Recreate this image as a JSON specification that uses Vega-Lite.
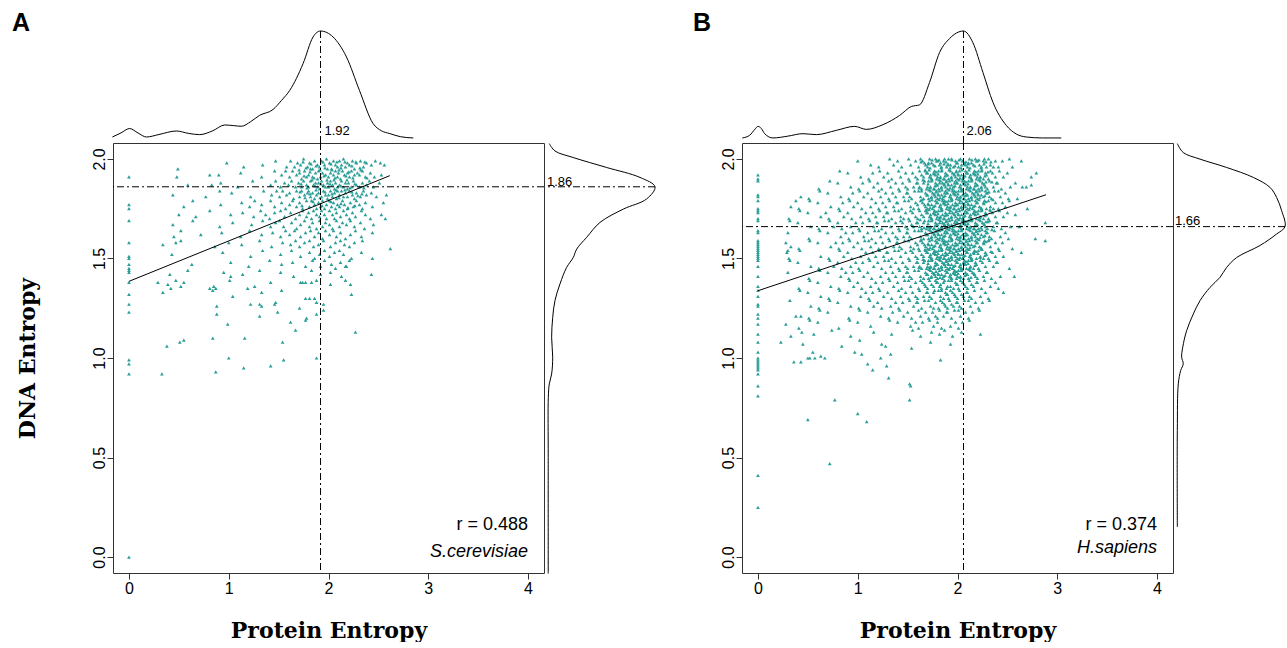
{
"$schema":"https://vega.github.io/schema/vega-lite/v6.json",
"background":"white",
"padding":{"left":12,"top":11,"right":0,"bottom":0},
"config":{"view":{"stroke":null},"font":"Liberation Sans","axis":{"domain":false,"grid":false,"tickColor":"#333","tickSize":6,"tickWidth":1,"labelFont":"Liberation Sans","labelFontSize":16,"labelColor":"#000","titleFont":"DejaVu Serif","titleFontWeight":"bold","titleFontSize":22,"titleColor":"#000"}},
"datasets":{
"modeA":[{"xm":1.92,"ym":1.86,"pk":1}],
"modeB":[{"xm":2.06,"ym":1.66,"pk":1}],
"annA":[{"r":"r = 0.488","sp":"S.cerevisiae"}],
"annB":[{"r":"r = 0.374","sp":"H.sapiens"}],
"regA":[{"x":0,"y":1.385},{"x":2.615,"y":1.916}],
"regB":[{"x":0,"y":1.338},{"x":2.887,"y":1.82}],
"topA":[{"x":-0.166,"d":0.012},{"x":-0.08,"d":0.05},{"x":0.007,"d":0.091},{"x":0.09,"d":0.05},{"x":0.175,"d":0.012},{"x":0.3,"d":0.035},{"x":0.475,"d":0.068},{"x":0.6,"d":0.045},{"x":0.709,"d":0.034},{"x":0.84,"d":0.07},{"x":0.96,"d":0.124},{"x":1.05,"d":0.118},{"x":1.127,"d":0.112},{"x":1.22,"d":0.155},{"x":1.31,"d":0.214},{"x":1.444,"d":0.268},{"x":1.53,"d":0.354},{"x":1.612,"d":0.447},{"x":1.745,"d":0.696},{"x":1.845,"d":0.944},{"x":1.92,"d":1},{"x":2.046,"d":0.944},{"x":2.18,"d":0.758},{"x":2.31,"d":0.447},{"x":2.447,"d":0.137},{"x":2.53,"d":0.07},{"x":2.614,"d":0.044},{"x":2.72,"d":0.015},{"x":2.85,"d":0.003}],
"topB":[{"x":-0.156,"d":0.003},{"x":-0.083,"d":0.028},{"x":-0.03,"d":0.085},{"x":0,"d":0.111},{"x":0.035,"d":0.09},{"x":0.067,"d":0.043},{"x":0.15,"d":0.003},{"x":0.3,"d":0.02},{"x":0.451,"d":0.043},{"x":0.585,"d":0.034},{"x":0.786,"d":0.074},{"x":0.969,"d":0.111},{"x":1.086,"d":0.083},{"x":1.253,"d":0.127},{"x":1.42,"d":0.213},{"x":1.537,"d":0.296},{"x":1.62,"d":0.312},{"x":1.72,"d":0.521},{"x":1.82,"d":0.799},{"x":1.92,"d":0.929},{"x":2.06,"d":1},{"x":2.154,"d":0.892},{"x":2.255,"d":0.614},{"x":2.355,"d":0.336},{"x":2.489,"d":0.12},{"x":2.589,"d":0.04},{"x":2.689,"d":0.012},{"x":2.85,"d":0.003},{"x":3.04,"d":0.003}],
"rightA":[{"y":2.077,"d":0.012},{"y":2.04,"d":0.065},{"y":2.007,"d":0.236},{"y":1.957,"d":0.548},{"y":1.907,"d":0.86},{"y":1.86,"d":1},{"y":1.799,"d":0.922},{"y":1.748,"d":0.704},{"y":1.681,"d":0.486},{"y":1.606,"d":0.361},{"y":1.547,"d":0.268},{"y":1.505,"d":0.236},{"y":1.455,"d":0.174},{"y":1.372,"d":0.112},{"y":1.288,"d":0.065},{"y":1.204,"d":0.044},{"y":1.104,"d":0.034},{"y":1.004,"d":0.044},{"y":0.92,"d":0.034},{"y":0.87,"d":0.012},{"y":0.803,"d":0.003},{"y":0.5,"d":0.002},{"y":-0.083,"d":0.002}],
"rightB":[{"y":2.077,"d":0.003},{"y":2.032,"d":0.058},{"y":1.999,"d":0.213},{"y":1.957,"d":0.46},{"y":1.907,"d":0.707},{"y":1.857,"d":0.861},{"y":1.806,"d":0.923},{"y":1.74,"d":0.969},{"y":1.66,"d":1},{"y":1.623,"d":0.923},{"y":1.565,"d":0.768},{"y":1.505,"d":0.553},{"y":1.455,"d":0.46},{"y":1.405,"d":0.398},{"y":1.355,"d":0.306},{"y":1.288,"d":0.213},{"y":1.221,"d":0.151},{"y":1.137,"d":0.089},{"y":1.054,"d":0.053},{"y":1.004,"d":0.043},{"y":0.971,"d":0.058},{"y":0.937,"d":0.034},{"y":0.87,"d":0.012},{"y":0.636,"d":0.003},{"y":0.151,"d":0.003}],
"ptsA":[{"x":0,"y":1.91},{"x":0,"y":1.77},{"x":0,"y":1.75},{"x":0,"y":1.69},{"x":0,"y":1.58},{"x":0,"y":1.51},{"x":0,"y":1.5},{"x":0,"y":1.47},{"x":0,"y":1.45},{"x":0,"y":1.44},{"x":0,"y":1.43},{"x":0,"y":1.38},{"x":0,"y":1.32},{"x":0,"y":1.27},{"x":0,"y":1.23},{"x":0,"y":0.99},{"x":0,"y":0.97},{"x":0,"y":0.92},{"x":0,"y":0},
{"x":1.34,"y":1.97},{"x":1.47,"y":1.99},{"x":1.58,"y":1.96},{"x":1.62,"y":1.99},{"x":1.66,"y":1.96},{"x":1.69,"y":1.98},{"x":1.72,"y":1.97},{"x":1.75,"y":2},{"x":1.79,"y":1.96},{"x":1.81,"y":1.98},{"x":1.84,"y":1.95},{"x":1.86,"y":1.99},{"x":1.89,"y":1.97},{"x":1.91,"y":1.96},{"x":1.93,"y":1.99},{"x":1.96,"y":1.97},{"x":1.98,"y":2},{"x":2.01,"y":1.98},{"x":2.03,"y":1.95},{"x":2.05,"y":1.99},{"x":2.07,"y":1.97},{"x":2.09,"y":1.96},{"x":2.11,"y":1.99},{"x":2.13,"y":1.97},{"x":2.15,"y":2},{"x":2.17,"y":1.96},{"x":2.19,"y":1.98},{"x":2.21,"y":1.97},{"x":2.24,"y":1.99},{"x":2.26,"y":1.95},{"x":2.28,"y":1.98},{"x":2.32,"y":1.99},{"x":2.35,"y":1.96},{"x":2.38,"y":1.98},{"x":2.43,"y":1.97},{"x":2.47,"y":1.99},{"x":2.52,"y":1.98},{"x":2.56,"y":1.97},{"x":0.98,"y":1.98},{"x":1.15,"y":1.96},
{"x":0.48,"y":1.91},{"x":0.49,"y":1.95},{"x":0.81,"y":1.92},{"x":0.9,"y":1.92},{"x":1.12,"y":1.93},{"x":1.33,"y":1.91},{"x":1.46,"y":1.94},{"x":1.53,"y":1.92},{"x":1.57,"y":1.94},{"x":1.61,"y":1.91},{"x":1.64,"y":1.94},{"x":1.68,"y":1.92},{"x":1.71,"y":1.93},{"x":1.73,"y":1.9},{"x":1.76,"y":1.94},{"x":1.78,"y":1.91},{"x":1.8,"y":1.92},{"x":1.82,"y":1.95},{"x":1.84,"y":1.91},{"x":1.87,"y":1.93},{"x":1.89,"y":1.9},{"x":1.9,"y":1.94},{"x":1.92,"y":1.91},{"x":1.94,"y":1.93},{"x":1.97,"y":1.92},{"x":1.99,"y":1.95},{"x":2,"y":1.91},{"x":2.02,"y":1.93},{"x":2.05,"y":1.92},{"x":2.07,"y":1.94},{"x":2.09,"y":1.91},{"x":2.1,"y":1.93},{"x":2.12,"y":1.9},{"x":2.14,"y":1.94},{"x":2.16,"y":1.92},{"x":2.19,"y":1.93},{"x":2.21,"y":1.91},{"x":2.23,"y":1.94},{"x":2.26,"y":1.92},{"x":2.29,"y":1.93},{"x":2.31,"y":1.92},{"x":2.34,"y":1.94},{"x":2.37,"y":1.91},{"x":2.42,"y":1.93},{"x":2.46,"y":1.91},{"x":2.53,"y":1.92},
{"x":0.59,"y":1.87},{"x":0.83,"y":1.87},{"x":0.92,"y":1.88},{"x":1.09,"y":1.86},{"x":1.24,"y":1.89},{"x":1.42,"y":1.87},{"x":1.47,"y":1.89},{"x":1.52,"y":1.86},{"x":1.56,"y":1.88},{"x":1.6,"y":1.87},{"x":1.63,"y":1.89},{"x":1.67,"y":1.86},{"x":1.7,"y":1.88},{"x":1.73,"y":1.86},{"x":1.75,"y":1.89},{"x":1.78,"y":1.87},{"x":1.8,"y":1.86},{"x":1.82,"y":1.89},{"x":1.85,"y":1.87},{"x":1.87,"y":1.88},{"x":1.89,"y":1.86},{"x":1.9,"y":1.88},{"x":1.91,"y":1.85},{"x":1.93,"y":1.89},{"x":1.95,"y":1.87},{"x":1.97,"y":1.86},{"x":1.99,"y":1.88},{"x":2,"y":1.86},{"x":2.02,"y":1.89},{"x":2.04,"y":1.87},{"x":2.06,"y":1.85},{"x":2.07,"y":1.88},{"x":2.09,"y":1.86},{"x":2.11,"y":1.87},{"x":2.13,"y":1.89},{"x":2.15,"y":1.86},{"x":2.17,"y":1.88},{"x":2.19,"y":1.85},{"x":2.2,"y":1.88},{"x":2.23,"y":1.86},{"x":2.25,"y":1.89},{"x":2.28,"y":1.87},{"x":2.31,"y":1.86},{"x":2.34,"y":1.88},{"x":2.38,"y":1.87},{"x":2.41,"y":1.89},{"x":2.45,"y":1.86},{"x":2.51,"y":1.88},
{"x":0.44,"y":1.82},{"x":0.77,"y":1.81},{"x":0.91,"y":1.84},{"x":1.03,"y":1.83},{"x":1.22,"y":1.81},{"x":1.35,"y":1.84},{"x":1.43,"y":1.82},{"x":1.48,"y":1.84},{"x":1.51,"y":1.81},{"x":1.54,"y":1.84},{"x":1.58,"y":1.82},{"x":1.61,"y":1.83},{"x":1.65,"y":1.8},{"x":1.68,"y":1.84},{"x":1.71,"y":1.81},{"x":1.73,"y":1.84},{"x":1.76,"y":1.82},{"x":1.79,"y":1.83},{"x":1.8,"y":1.84},{"x":1.82,"y":1.81},{"x":1.84,"y":1.83},{"x":1.86,"y":1.8},{"x":1.88,"y":1.82},{"x":1.9,"y":1.83},{"x":1.93,"y":1.81},{"x":1.95,"y":1.84},{"x":1.97,"y":1.82},{"x":1.99,"y":1.8},{"x":2,"y":1.82},{"x":2.02,"y":1.84},{"x":2.04,"y":1.81},{"x":2.06,"y":1.83},{"x":2.08,"y":1.8},{"x":2.09,"y":1.84},{"x":2.11,"y":1.82},{"x":2.13,"y":1.84},{"x":2.15,"y":1.81},{"x":2.17,"y":1.83},{"x":2.19,"y":1.81},{"x":2.21,"y":1.84},{"x":2.24,"y":1.82},{"x":2.26,"y":1.8},{"x":2.28,"y":1.83},{"x":2.32,"y":1.81},{"x":2.35,"y":1.84},{"x":2.38,"y":1.82},{"x":2.43,"y":1.83},{"x":2.48,"y":1.81},{"x":2.58,"y":1.82},
{"x":0.55,"y":1.76},{"x":0.64,"y":1.79},{"x":0.92,"y":1.77},{"x":1.13,"y":1.78},{"x":1.21,"y":1.76},{"x":1.26,"y":1.79},{"x":1.33,"y":1.77},{"x":1.42,"y":1.79},{"x":1.46,"y":1.76},{"x":1.53,"y":1.78},{"x":1.57,"y":1.75},{"x":1.61,"y":1.77},{"x":1.64,"y":1.79},{"x":1.68,"y":1.76},{"x":1.71,"y":1.78},{"x":1.74,"y":1.75},{"x":1.78,"y":1.79},{"x":1.81,"y":1.76},{"x":1.83,"y":1.79},{"x":1.86,"y":1.77},{"x":1.88,"y":1.75},{"x":1.9,"y":1.78},{"x":1.92,"y":1.76},{"x":1.94,"y":1.79},{"x":1.96,"y":1.75},{"x":1.98,"y":1.77},{"x":2.01,"y":1.79},{"x":2.03,"y":1.76},{"x":2.05,"y":1.78},{"x":2.07,"y":1.75},{"x":2.09,"y":1.77},{"x":2.11,"y":1.76},{"x":2.14,"y":1.79},{"x":2.16,"y":1.77},{"x":2.19,"y":1.75},{"x":2.22,"y":1.78},{"x":2.25,"y":1.76},{"x":2.28,"y":1.79},{"x":2.31,"y":1.77},{"x":2.34,"y":1.75},{"x":2.37,"y":1.78},{"x":2.44,"y":1.76},{"x":2.55,"y":1.78},
{"x":0.5,"y":1.72},{"x":0.67,"y":1.71},{"x":0.81,"y":1.74},{"x":1.02,"y":1.72},{"x":1.14,"y":1.73},{"x":1.25,"y":1.71},{"x":1.32,"y":1.74},{"x":1.37,"y":1.72},{"x":1.41,"y":1.7},{"x":1.46,"y":1.73},{"x":1.52,"y":1.74},{"x":1.56,"y":1.71},{"x":1.62,"y":1.73},{"x":1.67,"y":1.7},{"x":1.71,"y":1.72},{"x":1.74,"y":1.74},{"x":1.78,"y":1.71},{"x":1.8,"y":1.73},{"x":1.83,"y":1.7},{"x":1.85,"y":1.74},{"x":1.88,"y":1.72},{"x":1.91,"y":1.71},{"x":1.93,"y":1.74},{"x":1.96,"y":1.72},{"x":1.98,"y":1.7},{"x":2.01,"y":1.74},{"x":2.04,"y":1.72},{"x":2.06,"y":1.7},{"x":2.08,"y":1.73},{"x":2.12,"y":1.71},{"x":2.15,"y":1.74},{"x":2.18,"y":1.72},{"x":2.21,"y":1.7},{"x":2.24,"y":1.73},{"x":2.27,"y":1.71},{"x":2.33,"y":1.74},{"x":2.37,"y":1.72},{"x":2.42,"y":1.7},{"x":2.53,"y":1.72},{"x":2.57,"y":1.7},
{"x":0.44,"y":1.67},{"x":0.64,"y":1.69},{"x":0.91,"y":1.66},{"x":1.04,"y":1.68},{"x":1.23,"y":1.67},{"x":1.34,"y":1.69},{"x":1.42,"y":1.66},{"x":1.47,"y":1.68},{"x":1.51,"y":1.69},{"x":1.55,"y":1.66},{"x":1.63,"y":1.68},{"x":1.68,"y":1.65},{"x":1.72,"y":1.67},{"x":1.76,"y":1.69},{"x":1.81,"y":1.66},{"x":1.84,"y":1.68},{"x":1.88,"y":1.65},{"x":1.91,"y":1.69},{"x":1.94,"y":1.66},{"x":1.97,"y":1.68},{"x":2.01,"y":1.67},{"x":2.04,"y":1.65},{"x":2.08,"y":1.69},{"x":2.11,"y":1.66},{"x":2.14,"y":1.68},{"x":2.18,"y":1.67},{"x":2.22,"y":1.69},{"x":2.26,"y":1.66},{"x":2.32,"y":1.68},{"x":2.36,"y":1.65},{"x":2.45,"y":1.67},
{"x":0.45,"y":1.61},{"x":0.52,"y":1.64},{"x":0.72,"y":1.62},{"x":0.93,"y":1.63},{"x":1.12,"y":1.61},{"x":1.21,"y":1.64},{"x":1.33,"y":1.62},{"x":1.44,"y":1.63},{"x":1.52,"y":1.61},{"x":1.57,"y":1.64},{"x":1.61,"y":1.62},{"x":1.66,"y":1.64},{"x":1.72,"y":1.61},{"x":1.77,"y":1.63},{"x":1.82,"y":1.64},{"x":1.86,"y":1.61},{"x":1.9,"y":1.63},{"x":1.94,"y":1.6},{"x":1.97,"y":1.64},{"x":2.01,"y":1.62},{"x":2.05,"y":1.64},{"x":2.08,"y":1.61},{"x":2.12,"y":1.63},{"x":2.17,"y":1.6},{"x":2.22,"y":1.62},{"x":2.27,"y":1.64},{"x":2.33,"y":1.61},{"x":2.44,"y":1.63},
{"x":0.34,"y":1.57},{"x":0.47,"y":1.58},{"x":0.52,"y":1.59},{"x":0.86,"y":1.56},{"x":1,"y":1.58},{"x":1.13,"y":1.57},{"x":1.31,"y":1.59},{"x":1.43,"y":1.56},{"x":1.54,"y":1.58},{"x":1.62,"y":1.57},{"x":1.67,"y":1.59},{"x":1.71,"y":1.56},{"x":1.76,"y":1.58},{"x":1.81,"y":1.59},{"x":1.85,"y":1.56},{"x":1.9,"y":1.57},{"x":1.95,"y":1.59},{"x":2.02,"y":1.56},{"x":2.07,"y":1.58},{"x":2.12,"y":1.59},{"x":2.16,"y":1.57},{"x":2.21,"y":1.56},{"x":2.26,"y":1.58},{"x":2.34,"y":1.59},{"x":2.62,"y":1.55},
{"x":0.43,"y":1.52},{"x":0.94,"y":1.53},{"x":1.22,"y":1.51},{"x":1.34,"y":1.54},{"x":1.52,"y":1.52},{"x":1.63,"y":1.54},{"x":1.72,"y":1.51},{"x":1.81,"y":1.53},{"x":1.86,"y":1.5},{"x":1.91,"y":1.52},{"x":1.96,"y":1.54},{"x":2.01,"y":1.51},{"x":2.06,"y":1.53},{"x":2.11,"y":1.54},{"x":2.15,"y":1.52},{"x":2.23,"y":1.5},{"x":2.33,"y":1.53},{"x":2.44,"y":1.5},
{"x":0.63,"y":1.47},{"x":1.02,"y":1.48},{"x":1.2,"y":1.46},{"x":1.41,"y":1.49},{"x":1.53,"y":1.47},{"x":1.64,"y":1.48},{"x":1.77,"y":1.46},{"x":1.84,"y":1.49},{"x":1.92,"y":1.46},{"x":1.96,"y":1.49},{"x":2.03,"y":1.47},{"x":2.07,"y":1.45},{"x":2.12,"y":1.48},{"x":2.17,"y":1.46},{"x":2.21,"y":1.49},
{"x":0.41,"y":1.42},{"x":0.59,"y":1.44},{"x":0.95,"y":1.43},{"x":1.02,"y":1.41},{"x":1.14,"y":1.42},{"x":1.31,"y":1.44},{"x":1.52,"y":1.43},{"x":1.65,"y":1.41},{"x":1.83,"y":1.44},{"x":1.92,"y":1.42},{"x":2.02,"y":1.43},{"x":2.13,"y":1.41},{"x":2.18,"y":1.46},{"x":2.43,"y":1.42},
{"x":0.29,"y":1.38},{"x":0.39,"y":1.37},{"x":0.47,"y":1.39},{"x":0.52,"y":1.36},{"x":0.55,"y":1.38},{"x":0.85,"y":1.36},{"x":1.01,"y":1.39},{"x":1.19,"y":1.35},{"x":1.26,"y":1.36},{"x":1.42,"y":1.38},{"x":1.72,"y":1.38},{"x":1.74,"y":1.38},{"x":1.77,"y":1.38},{"x":1.83,"y":1.38},{"x":1.88,"y":1.39},{"x":2.17,"y":1.39},{"x":2.22,"y":1.37},{"x":2.02,"y":1.37},
{"x":0.34,"y":1.33},{"x":0.42,"y":1.35},{"x":0.81,"y":1.35},{"x":0.84,"y":1.34},{"x":0.87,"y":1.35},{"x":1.04,"y":1.31},{"x":1.33,"y":1.33},{"x":1.77,"y":1.3},{"x":1.81,"y":1.3},{"x":1.86,"y":1.3},{"x":1.53,"y":1.34},{"x":2.23,"y":1.32},
{"x":0.88,"y":1.26},{"x":1.22,"y":1.27},{"x":1.31,"y":1.27},{"x":1.33,"y":1.26},{"x":1.46,"y":1.27},{"x":1.47,"y":1.28},{"x":1.88,"y":1.28},{"x":1.95,"y":1.27},
{"x":0.88,"y":1.22},{"x":1.49,"y":1.23},{"x":1.71,"y":1.25},{"x":1.88,"y":1.22},{"x":1.78,"y":1.2},{"x":1.95,"y":1.24},{"x":1.31,"y":1.21},
{"x":0.99,"y":1.17},{"x":1.77,"y":1.19},{"x":1.62,"y":1.18},{"x":1.67,"y":1.14},{"x":2.27,"y":1.13},{"x":0.38,"y":1.06},{"x":0.51,"y":1.08},{"x":0.55,"y":1.09},{"x":0.84,"y":1.1},{"x":1.16,"y":1.1},{"x":1.54,"y":1.08},{"x":1,"y":1},{"x":1.88,"y":1},{"x":1.55,"y":0.99},{"x":1.42,"y":0.96},{"x":1.15,"y":0.95},{"x":0.87,"y":0.93},{"x":0.33,"y":0.92},
{"x":1.745,"y":1.985},{"x":1.775,"y":1.955},{"x":1.825,"y":1.975},{"x":1.875,"y":1.965},{"x":1.945,"y":1.985},{"x":1.965,"y":1.955},{"x":2.025,"y":1.975},{"x":2.085,"y":1.985},{"x":2.125,"y":1.955},{"x":2.165,"y":1.985},{"x":2.235,"y":1.965},{"x":2.275,"y":1.985},{"x":2.315,"y":1.955},{"x":2.365,"y":1.985},
{"x":1.705,"y":1.945},{"x":1.755,"y":1.915},{"x":1.815,"y":1.935},{"x":1.855,"y":1.905},{"x":1.915,"y":1.945},{"x":1.955,"y":1.915},{"x":2.035,"y":1.945},{"x":2.065,"y":1.905},{"x":2.105,"y":1.945},{"x":2.175,"y":1.915},{"x":2.205,"y":1.935},{"x":2.245,"y":1.905},{"x":2.325,"y":1.945},{"x":2.385,"y":1.905},
{"x":1.725,"y":1.875},{"x":1.785,"y":1.855},{"x":1.835,"y":1.895},{"x":1.865,"y":1.865},{"x":1.925,"y":1.875},{"x":1.985,"y":1.895},{"x":2.015,"y":1.875},{"x":2.055,"y":1.895},{"x":2.125,"y":1.865},{"x":2.185,"y":1.895},{"x":2.215,"y":1.855},{"x":2.265,"y":1.875},{"x":2.355,"y":1.855},
{"x":1.715,"y":1.835},{"x":1.765,"y":1.805},{"x":1.815,"y":1.825},{"x":1.875,"y":1.845},{"x":1.915,"y":1.805},{"x":1.965,"y":1.835},{"x":2.035,"y":1.825},{"x":2.075,"y":1.845},{"x":2.105,"y":1.805},{"x":2.165,"y":1.845},{"x":2.235,"y":1.835},{"x":2.295,"y":1.815},{"x":2.335,"y":1.825},
{"x":1.735,"y":1.765},{"x":1.845,"y":1.785},{"x":1.935,"y":1.765},{"x":2.025,"y":1.785},{"x":2.125,"y":1.775},{"x":2.195,"y":1.755},{"x":2.265,"y":1.765}],
"ptsB":[{"x":0,"y":1.92},{"x":0,"y":1.9},{"x":0,"y":1.89},{"x":0,"y":1.82},{"x":0,"y":1.81},{"x":0,"y":1.79},{"x":0,"y":1.75},{"x":0,"y":1.74},{"x":0,"y":1.73},{"x":0,"y":1.7},{"x":0,"y":1.69},{"x":0,"y":1.64},{"x":0,"y":1.63},{"x":0,"y":1.59},{"x":0,"y":1.58},{"x":0,"y":1.57},{"x":0,"y":1.56},{"x":0,"y":1.55},{"x":0,"y":1.54},{"x":0,"y":1.53},{"x":0,"y":1.52},{"x":0,"y":1.51},{"x":0,"y":1.5},{"x":0,"y":1.49},{"x":0,"y":1.46},{"x":0,"y":1.41},{"x":0,"y":1.36},{"x":0,"y":1.34},{"x":0,"y":1.31},{"x":0,"y":1.27},{"x":0,"y":1.26},{"x":0,"y":1.22},{"x":0,"y":1.2},{"x":0,"y":1.17},{"x":0,"y":1.12},{"x":0,"y":1.08},{"x":0,"y":1.03},{"x":0,"y":1},{"x":0,"y":0.99},{"x":0,"y":0.98},{"x":0,"y":0.97},{"x":0,"y":0.96},{"x":0,"y":0.95},{"x":0,"y":0.94},{"x":0,"y":0.92},{"x":0,"y":0.86},{"x":0,"y":0.81},{"x":0,"y":0.41},{"x":0,"y":0.25},
{"x":1,"y":1.99},{"x":1.13,"y":1.97},{"x":1.21,"y":1.96},{"x":1.32,"y":2},{"x":1.36,"y":1.97},{"x":1.4,"y":1.99},{"x":1.44,"y":1.96},{"x":1.53,"y":1.97},{"x":1.58,"y":1.99},{"x":1.51,"y":2},{"x":1.61,"y":1.96},{"x":1.65,"y":1.99},{"x":1.68,"y":1.97},{"x":1.63,"y":2},{"x":1.67,"y":1.98},{"x":1.72,"y":2},{"x":1.76,"y":1.97},{"x":1.79,"y":1.99},{"x":1.7,"y":1.96},{"x":1.74,"y":1.98},{"x":1.78,"y":2},{"x":1.71,"y":1.98},{"x":1.8,"y":1.99},{"x":1.84,"y":1.96},{"x":1.87,"y":2},{"x":1.82,"y":1.97},{"x":1.86,"y":1.99},{"x":1.89,"y":1.96},{"x":1.83,"y":1.98},{"x":1.93,"y":1.97},{"x":1.98,"y":1.99},{"x":1.91,"y":2},{"x":1.96,"y":1.96},{"x":1.99,"y":1.98},{"x":1.94,"y":2},{"x":1.9,"y":1.97},{"x":2.01,"y":1.96},{"x":2.05,"y":1.99},{"x":2.08,"y":1.97},{"x":2.03,"y":2},{"x":2.07,"y":1.98},{"x":2,"y":1.98},{"x":2.04,"y":1.97},{"x":2.12,"y":2},{"x":2.16,"y":1.97},{"x":2.19,"y":1.99},{"x":2.1,"y":1.96},{"x":2.14,"y":1.98},{"x":2.18,"y":2},{"x":2.11,"y":1.98},{"x":2.2,"y":1.99},{"x":2.24,"y":1.96},{"x":2.27,"y":2},{"x":2.22,"y":1.97},{"x":2.26,"y":1.99},{"x":2.29,"y":1.96},{"x":2.33,"y":1.97},{"x":2.38,"y":1.99},{"x":2.31,"y":2},{"x":2.36,"y":1.96},{"x":2.41,"y":1.96},{"x":2.45,"y":1.99},{"x":2.52,"y":2},
{"x":0.82,"y":1.94},{"x":0.9,"y":1.93},{"x":1.03,"y":1.91},{"x":1.11,"y":1.9},{"x":1.15,"y":1.93},{"x":1.22,"y":1.94},{"x":1.26,"y":1.91},{"x":1.3,"y":1.93},{"x":1.34,"y":1.9},{"x":1.43,"y":1.91},{"x":1.48,"y":1.93},{"x":1.41,"y":1.94},{"x":1.51,"y":1.9},{"x":1.55,"y":1.93},{"x":1.58,"y":1.91},{"x":1.62,"y":1.94},{"x":1.66,"y":1.91},{"x":1.69,"y":1.93},{"x":1.6,"y":1.9},{"x":1.64,"y":1.92},{"x":1.68,"y":1.94},{"x":1.7,"y":1.93},{"x":1.74,"y":1.9},{"x":1.77,"y":1.94},{"x":1.72,"y":1.91},{"x":1.76,"y":1.93},{"x":1.79,"y":1.9},{"x":1.73,"y":1.92},{"x":1.78,"y":1.92},{"x":1.83,"y":1.91},{"x":1.88,"y":1.93},{"x":1.81,"y":1.94},{"x":1.86,"y":1.9},{"x":1.89,"y":1.92},{"x":1.84,"y":1.94},{"x":1.8,"y":1.91},{"x":1.87,"y":1.9},{"x":1.91,"y":1.9},{"x":1.95,"y":1.93},{"x":1.98,"y":1.91},{"x":1.93,"y":1.94},{"x":1.97,"y":1.92},{"x":1.9,"y":1.92},{"x":1.94,"y":1.91},{"x":1.99,"y":1.94},{"x":2.02,"y":1.94},{"x":2.06,"y":1.91},{"x":2.09,"y":1.93},{"x":2,"y":1.9},{"x":2.04,"y":1.92},{"x":2.08,"y":1.94},{"x":2.01,"y":1.92},{"x":2.05,"y":1.9},{"x":2.1,"y":1.93},{"x":2.14,"y":1.9},{"x":2.17,"y":1.94},{"x":2.12,"y":1.91},{"x":2.16,"y":1.93},{"x":2.19,"y":1.9},{"x":2.13,"y":1.92},{"x":2.18,"y":1.92},{"x":2.23,"y":1.91},{"x":2.28,"y":1.93},{"x":2.21,"y":1.94},{"x":2.26,"y":1.9},{"x":2.29,"y":1.92},{"x":2.24,"y":1.94},{"x":2.2,"y":1.91},{"x":2.31,"y":1.9},{"x":2.35,"y":1.93},{"x":2.38,"y":1.91},{"x":2.33,"y":1.94},{"x":2.42,"y":1.94},{"x":2.46,"y":1.91},{"x":2.5,"y":1.93},
{"x":0.61,"y":1.85},{"x":0.72,"y":1.89},{"x":0.8,"y":1.88},{"x":0.93,"y":1.86},{"x":1.01,"y":1.85},{"x":1.05,"y":1.88},{"x":1.12,"y":1.89},{"x":1.16,"y":1.86},{"x":1.2,"y":1.88},{"x":1.24,"y":1.85},{"x":1.33,"y":1.86},{"x":1.38,"y":1.88},{"x":1.31,"y":1.89},{"x":1.41,"y":1.85},{"x":1.45,"y":1.88},{"x":1.48,"y":1.86},{"x":1.52,"y":1.89},{"x":1.56,"y":1.86},{"x":1.59,"y":1.88},{"x":1.5,"y":1.85},{"x":1.6,"y":1.88},{"x":1.64,"y":1.85},{"x":1.67,"y":1.89},{"x":1.62,"y":1.86},{"x":1.66,"y":1.88},{"x":1.69,"y":1.85},{"x":1.73,"y":1.86},{"x":1.78,"y":1.88},{"x":1.71,"y":1.89},{"x":1.76,"y":1.85},{"x":1.79,"y":1.87},{"x":1.74,"y":1.89},{"x":1.7,"y":1.86},{"x":1.77,"y":1.85},{"x":1.81,"y":1.85},{"x":1.85,"y":1.88},{"x":1.88,"y":1.86},{"x":1.83,"y":1.89},{"x":1.87,"y":1.87},{"x":1.8,"y":1.87},{"x":1.84,"y":1.86},{"x":1.89,"y":1.89},{"x":1.82,"y":1.88},{"x":1.92,"y":1.89},{"x":1.96,"y":1.86},{"x":1.99,"y":1.88},{"x":1.9,"y":1.85},{"x":1.94,"y":1.87},{"x":1.98,"y":1.89},{"x":1.91,"y":1.87},{"x":1.95,"y":1.85},{"x":1.97,"y":1.88},{"x":2,"y":1.88},{"x":2.04,"y":1.85},{"x":2.07,"y":1.89},{"x":2.02,"y":1.86},{"x":2.06,"y":1.88},{"x":2.09,"y":1.85},{"x":2.03,"y":1.87},{"x":2.08,"y":1.87},{"x":2.05,"y":1.89},{"x":2.13,"y":1.86},{"x":2.18,"y":1.88},{"x":2.11,"y":1.89},{"x":2.16,"y":1.85},{"x":2.19,"y":1.87},{"x":2.14,"y":1.89},{"x":2.1,"y":1.86},{"x":2.17,"y":1.85},{"x":2.21,"y":1.85},{"x":2.25,"y":1.88},{"x":2.28,"y":1.86},{"x":2.23,"y":1.89},{"x":2.27,"y":1.87},{"x":2.2,"y":1.87},{"x":2.24,"y":1.86},{"x":2.32,"y":1.89},{"x":2.36,"y":1.86},{"x":2.39,"y":1.88},{"x":2.3,"y":1.85},{"x":2.4,"y":1.88},{"x":2.44,"y":1.85},{"x":2.53,"y":1.86},{"x":2.58,"y":1.88},
{"x":0.43,"y":1.81},{"x":0.51,"y":1.8},{"x":0.62,"y":1.84},{"x":0.7,"y":1.83},{"x":0.83,"y":1.81},{"x":0.91,"y":1.8},{"x":0.95,"y":1.83},{"x":1.02,"y":1.84},{"x":1.06,"y":1.81},{"x":1.1,"y":1.83},{"x":1.14,"y":1.8},{"x":1.23,"y":1.81},{"x":1.28,"y":1.83},{"x":1.21,"y":1.84},{"x":1.31,"y":1.8},{"x":1.35,"y":1.83},{"x":1.38,"y":1.81},{"x":1.42,"y":1.84},{"x":1.46,"y":1.81},{"x":1.49,"y":1.83},{"x":1.5,"y":1.83},{"x":1.54,"y":1.8},{"x":1.57,"y":1.84},{"x":1.52,"y":1.81},{"x":1.63,"y":1.81},{"x":1.68,"y":1.83},{"x":1.61,"y":1.84},{"x":1.66,"y":1.8},{"x":1.69,"y":1.82},{"x":1.64,"y":1.84},{"x":1.71,"y":1.8},{"x":1.75,"y":1.83},{"x":1.78,"y":1.81},{"x":1.73,"y":1.84},{"x":1.77,"y":1.82},{"x":1.7,"y":1.82},{"x":1.74,"y":1.81},{"x":1.79,"y":1.84},{"x":1.82,"y":1.84},{"x":1.86,"y":1.81},{"x":1.89,"y":1.83},{"x":1.8,"y":1.8},{"x":1.84,"y":1.82},{"x":1.88,"y":1.84},{"x":1.81,"y":1.82},{"x":1.85,"y":1.8},{"x":1.87,"y":1.83},{"x":1.9,"y":1.83},{"x":1.94,"y":1.8},{"x":1.97,"y":1.84},{"x":1.92,"y":1.81},{"x":1.96,"y":1.83},{"x":1.99,"y":1.8},{"x":1.93,"y":1.82},{"x":1.98,"y":1.82},{"x":1.95,"y":1.84},{"x":2.03,"y":1.81},{"x":2.08,"y":1.83},{"x":2.01,"y":1.84},{"x":2.06,"y":1.8},{"x":2.09,"y":1.82},{"x":2.04,"y":1.84},{"x":2,"y":1.81},{"x":2.07,"y":1.8},{"x":2.05,"y":1.82},{"x":2.11,"y":1.8},{"x":2.15,"y":1.83},{"x":2.18,"y":1.81},{"x":2.13,"y":1.84},{"x":2.17,"y":1.82},{"x":2.1,"y":1.82},{"x":2.14,"y":1.81},{"x":2.19,"y":1.84},{"x":2.22,"y":1.84},{"x":2.26,"y":1.81},{"x":2.29,"y":1.83},{"x":2.2,"y":1.8},{"x":2.24,"y":1.82},{"x":2.28,"y":1.84},{"x":2.21,"y":1.82},{"x":2.3,"y":1.83},{"x":2.34,"y":1.8},{"x":2.37,"y":1.84},{"x":2.32,"y":1.81},{"x":2.43,"y":1.81},{"x":2.48,"y":1.83},{"x":2.41,"y":1.84},{"x":2.51,"y":1.8},
{"x":0.33,"y":1.76},{"x":0.41,"y":1.75},{"x":0.52,"y":1.79},{"x":0.6,"y":1.78},{"x":0.73,"y":1.76},{"x":0.81,"y":1.75},{"x":0.85,"y":1.78},{"x":0.92,"y":1.79},{"x":0.96,"y":1.76},{"x":1,"y":1.78},{"x":1.04,"y":1.75},{"x":1.13,"y":1.76},{"x":1.18,"y":1.78},{"x":1.21,"y":1.75},{"x":1.25,"y":1.78},{"x":1.28,"y":1.76},{"x":1.32,"y":1.79},{"x":1.36,"y":1.76},{"x":1.39,"y":1.78},{"x":1.4,"y":1.78},{"x":1.44,"y":1.75},{"x":1.47,"y":1.79},{"x":1.53,"y":1.76},{"x":1.58,"y":1.78},{"x":1.51,"y":1.79},{"x":1.56,"y":1.75},{"x":1.61,"y":1.75},{"x":1.65,"y":1.78},{"x":1.68,"y":1.76},{"x":1.63,"y":1.79},{"x":1.67,"y":1.77},{"x":1.6,"y":1.77},{"x":1.72,"y":1.79},{"x":1.76,"y":1.76},{"x":1.79,"y":1.78},{"x":1.7,"y":1.75},{"x":1.74,"y":1.77},{"x":1.78,"y":1.79},{"x":1.71,"y":1.77},{"x":1.75,"y":1.75},{"x":1.8,"y":1.78},{"x":1.84,"y":1.75},{"x":1.87,"y":1.79},{"x":1.82,"y":1.76},{"x":1.86,"y":1.78},{"x":1.89,"y":1.75},{"x":1.83,"y":1.77},{"x":1.88,"y":1.77},{"x":1.85,"y":1.79},{"x":1.93,"y":1.76},{"x":1.98,"y":1.78},{"x":1.91,"y":1.79},{"x":1.96,"y":1.75},{"x":1.99,"y":1.77},{"x":1.94,"y":1.79},{"x":1.9,"y":1.76},{"x":1.97,"y":1.75},{"x":1.95,"y":1.77},{"x":2.01,"y":1.75},{"x":2.05,"y":1.78},{"x":2.08,"y":1.76},{"x":2.03,"y":1.79},{"x":2.07,"y":1.77},{"x":2,"y":1.77},{"x":2.04,"y":1.76},{"x":2.09,"y":1.79},{"x":2.02,"y":1.78},{"x":2.12,"y":1.79},{"x":2.16,"y":1.76},{"x":2.19,"y":1.78},{"x":2.1,"y":1.75},{"x":2.14,"y":1.77},{"x":2.18,"y":1.79},{"x":2.11,"y":1.77},{"x":2.15,"y":1.75},{"x":2.2,"y":1.78},{"x":2.24,"y":1.75},{"x":2.27,"y":1.79},{"x":2.22,"y":1.76},{"x":2.26,"y":1.78},{"x":2.29,"y":1.75},{"x":2.33,"y":1.76},{"x":2.38,"y":1.78},{"x":2.31,"y":1.79},{"x":2.36,"y":1.75},{"x":2.41,"y":1.75},{"x":2.45,"y":1.78},{"x":2.48,"y":1.76},{"x":2.52,"y":1.79},
{"x":0.31,"y":1.7},{"x":0.42,"y":1.74},{"x":0.5,"y":1.73},{"x":0.63,"y":1.71},{"x":0.68,"y":1.73},{"x":0.71,"y":1.7},{"x":0.82,"y":1.74},{"x":0.86,"y":1.71},{"x":0.9,"y":1.73},{"x":0.94,"y":1.7},{"x":1.03,"y":1.71},{"x":1.08,"y":1.73},{"x":1.11,"y":1.7},{"x":1.15,"y":1.73},{"x":1.18,"y":1.71},{"x":1.22,"y":1.74},{"x":1.26,"y":1.71},{"x":1.29,"y":1.73},{"x":1.3,"y":1.73},{"x":1.34,"y":1.7},{"x":1.37,"y":1.74},{"x":1.43,"y":1.71},{"x":1.48,"y":1.73},{"x":1.41,"y":1.74},{"x":1.46,"y":1.7},{"x":1.51,"y":1.7},{"x":1.55,"y":1.73},{"x":1.58,"y":1.71},{"x":1.53,"y":1.74},{"x":1.62,"y":1.74},{"x":1.66,"y":1.71},{"x":1.69,"y":1.73},{"x":1.6,"y":1.7},{"x":1.64,"y":1.72},{"x":1.68,"y":1.74},{"x":1.7,"y":1.73},{"x":1.74,"y":1.7},{"x":1.77,"y":1.74},{"x":1.72,"y":1.71},{"x":1.76,"y":1.73},{"x":1.79,"y":1.7},{"x":1.73,"y":1.72},{"x":1.78,"y":1.72},{"x":1.83,"y":1.71},{"x":1.88,"y":1.73},{"x":1.81,"y":1.74},{"x":1.86,"y":1.7},{"x":1.89,"y":1.72},{"x":1.84,"y":1.74},{"x":1.8,"y":1.71},{"x":1.87,"y":1.7},{"x":1.85,"y":1.72},{"x":1.91,"y":1.7},{"x":1.95,"y":1.73},{"x":1.98,"y":1.71},{"x":1.93,"y":1.74},{"x":1.97,"y":1.72},{"x":1.9,"y":1.72},{"x":1.94,"y":1.71},{"x":1.99,"y":1.74},{"x":1.92,"y":1.73},{"x":2.02,"y":1.74},{"x":2.06,"y":1.71},{"x":2.09,"y":1.73},{"x":2,"y":1.7},{"x":2.04,"y":1.72},{"x":2.08,"y":1.74},{"x":2.01,"y":1.72},{"x":2.05,"y":1.7},{"x":2.07,"y":1.73},{"x":2.1,"y":1.73},{"x":2.14,"y":1.7},{"x":2.17,"y":1.74},{"x":2.12,"y":1.71},{"x":2.16,"y":1.73},{"x":2.19,"y":1.7},{"x":2.13,"y":1.72},{"x":2.18,"y":1.72},{"x":2.23,"y":1.71},{"x":2.28,"y":1.73},{"x":2.21,"y":1.74},{"x":2.26,"y":1.7},{"x":2.29,"y":1.72},{"x":2.24,"y":1.74},{"x":2.31,"y":1.7},{"x":2.35,"y":1.73},{"x":2.38,"y":1.71},{"x":2.33,"y":1.74},{"x":2.42,"y":1.74},{"x":2.46,"y":1.71},{"x":2.5,"y":1.73},
{"x":0.32,"y":1.69},{"x":0.4,"y":1.68},{"x":0.53,"y":1.66},{"x":0.61,"y":1.65},{"x":0.72,"y":1.69},{"x":0.76,"y":1.66},{"x":0.8,"y":1.68},{"x":0.84,"y":1.65},{"x":0.93,"y":1.66},{"x":0.98,"y":1.68},{"x":1.01,"y":1.65},{"x":1.05,"y":1.68},{"x":1.12,"y":1.69},{"x":1.16,"y":1.66},{"x":1.19,"y":1.68},{"x":1.2,"y":1.68},{"x":1.24,"y":1.65},{"x":1.27,"y":1.69},{"x":1.33,"y":1.66},{"x":1.38,"y":1.68},{"x":1.31,"y":1.69},{"x":1.41,"y":1.65},{"x":1.45,"y":1.68},{"x":1.48,"y":1.66},{"x":1.43,"y":1.69},{"x":1.52,"y":1.69},{"x":1.56,"y":1.66},{"x":1.59,"y":1.68},{"x":1.5,"y":1.65},{"x":1.54,"y":1.67},{"x":1.6,"y":1.68},{"x":1.64,"y":1.65},{"x":1.67,"y":1.69},{"x":1.62,"y":1.66},{"x":1.66,"y":1.68},{"x":1.69,"y":1.65},{"x":1.73,"y":1.66},{"x":1.78,"y":1.68},{"x":1.71,"y":1.69},{"x":1.76,"y":1.65},{"x":1.79,"y":1.67},{"x":1.74,"y":1.69},{"x":1.7,"y":1.66},{"x":1.77,"y":1.65},{"x":1.81,"y":1.65},{"x":1.85,"y":1.68},{"x":1.88,"y":1.66},{"x":1.83,"y":1.69},{"x":1.87,"y":1.67},{"x":1.8,"y":1.67},{"x":1.84,"y":1.66},{"x":1.89,"y":1.69},{"x":1.82,"y":1.68},{"x":1.92,"y":1.69},{"x":1.96,"y":1.66},{"x":1.99,"y":1.68},{"x":1.9,"y":1.65},{"x":1.94,"y":1.67},{"x":1.98,"y":1.69},{"x":1.91,"y":1.67},{"x":1.95,"y":1.65},{"x":1.97,"y":1.68},{"x":2,"y":1.68},{"x":2.04,"y":1.65},{"x":2.07,"y":1.69},{"x":2.02,"y":1.66},{"x":2.06,"y":1.68},{"x":2.09,"y":1.65},{"x":2.03,"y":1.67},{"x":2.08,"y":1.67},{"x":2.05,"y":1.69},{"x":2.13,"y":1.66},{"x":2.18,"y":1.68},{"x":2.11,"y":1.69},{"x":2.16,"y":1.65},{"x":2.19,"y":1.67},{"x":2.14,"y":1.69},{"x":2.1,"y":1.66},{"x":2.17,"y":1.65},{"x":2.21,"y":1.65},{"x":2.25,"y":1.68},{"x":2.28,"y":1.66},{"x":2.23,"y":1.69},{"x":2.27,"y":1.67},{"x":2.2,"y":1.67},{"x":2.32,"y":1.69},{"x":2.36,"y":1.66},{"x":2.39,"y":1.68},{"x":2.3,"y":1.65},{"x":2.4,"y":1.68},{"x":2.44,"y":1.65},{"x":2.53,"y":1.66},
{"x":0.3,"y":1.63},{"x":0.51,"y":1.6},{"x":0.62,"y":1.64},{"x":0.7,"y":1.63},{"x":0.83,"y":1.61},{"x":0.88,"y":1.63},{"x":0.91,"y":1.6},{"x":0.95,"y":1.63},{"x":1.02,"y":1.64},{"x":1.06,"y":1.61},{"x":1.1,"y":1.63},{"x":1.14,"y":1.6},{"x":1.17,"y":1.64},{"x":1.23,"y":1.61},{"x":1.28,"y":1.63},{"x":1.21,"y":1.64},{"x":1.31,"y":1.6},{"x":1.35,"y":1.63},{"x":1.38,"y":1.61},{"x":1.42,"y":1.64},{"x":1.46,"y":1.61},{"x":1.49,"y":1.63},{"x":1.4,"y":1.6},{"x":1.5,"y":1.63},{"x":1.54,"y":1.6},{"x":1.57,"y":1.64},{"x":1.52,"y":1.61},{"x":1.63,"y":1.61},{"x":1.68,"y":1.63},{"x":1.61,"y":1.64},{"x":1.66,"y":1.6},{"x":1.69,"y":1.62},{"x":1.64,"y":1.64},{"x":1.71,"y":1.6},{"x":1.75,"y":1.63},{"x":1.78,"y":1.61},{"x":1.73,"y":1.64},{"x":1.77,"y":1.62},{"x":1.7,"y":1.62},{"x":1.74,"y":1.61},{"x":1.79,"y":1.64},{"x":1.82,"y":1.64},{"x":1.86,"y":1.61},{"x":1.89,"y":1.63},{"x":1.8,"y":1.6},{"x":1.84,"y":1.62},{"x":1.88,"y":1.64},{"x":1.81,"y":1.62},{"x":1.85,"y":1.6},{"x":1.87,"y":1.63},{"x":1.9,"y":1.63},{"x":1.94,"y":1.6},{"x":1.97,"y":1.64},{"x":1.92,"y":1.61},{"x":1.96,"y":1.63},{"x":1.99,"y":1.6},{"x":1.93,"y":1.62},{"x":1.98,"y":1.62},{"x":1.95,"y":1.64},{"x":2.03,"y":1.61},{"x":2.08,"y":1.63},{"x":2.01,"y":1.64},{"x":2.06,"y":1.6},{"x":2.09,"y":1.62},{"x":2.04,"y":1.64},{"x":2,"y":1.61},{"x":2.07,"y":1.6},{"x":2.05,"y":1.62},{"x":2.11,"y":1.6},{"x":2.15,"y":1.63},{"x":2.18,"y":1.61},{"x":2.13,"y":1.64},{"x":2.17,"y":1.62},{"x":2.1,"y":1.62},{"x":2.14,"y":1.61},{"x":2.19,"y":1.64},{"x":2.22,"y":1.64},{"x":2.26,"y":1.61},{"x":2.29,"y":1.63},{"x":2.2,"y":1.6},{"x":2.24,"y":1.62},{"x":2.28,"y":1.64},{"x":2.3,"y":1.63},{"x":2.34,"y":1.6},{"x":2.37,"y":1.64},{"x":2.32,"y":1.61},{"x":2.43,"y":1.61},{"x":2.48,"y":1.63},{"x":2.51,"y":1.6},
{"x":0.28,"y":1.58},{"x":0.33,"y":1.56},{"x":0.41,"y":1.55},{"x":0.52,"y":1.59},{"x":0.6,"y":1.58},{"x":0.73,"y":1.56},{"x":0.78,"y":1.58},{"x":0.81,"y":1.55},{"x":0.85,"y":1.58},{"x":0.92,"y":1.59},{"x":0.96,"y":1.56},{"x":1,"y":1.58},{"x":1.04,"y":1.55},{"x":1.07,"y":1.59},{"x":1.13,"y":1.56},{"x":1.18,"y":1.58},{"x":1.11,"y":1.59},{"x":1.21,"y":1.55},{"x":1.25,"y":1.58},{"x":1.28,"y":1.56},{"x":1.32,"y":1.59},{"x":1.36,"y":1.56},{"x":1.39,"y":1.58},{"x":1.4,"y":1.58},{"x":1.44,"y":1.55},{"x":1.47,"y":1.59},{"x":1.42,"y":1.56},{"x":1.53,"y":1.56},{"x":1.58,"y":1.58},{"x":1.51,"y":1.59},{"x":1.56,"y":1.55},{"x":1.61,"y":1.55},{"x":1.65,"y":1.58},{"x":1.68,"y":1.56},{"x":1.63,"y":1.59},{"x":1.67,"y":1.57},{"x":1.6,"y":1.57},{"x":1.72,"y":1.59},{"x":1.76,"y":1.56},{"x":1.79,"y":1.58},{"x":1.7,"y":1.55},{"x":1.74,"y":1.57},{"x":1.78,"y":1.59},{"x":1.71,"y":1.57},{"x":1.75,"y":1.55},{"x":1.8,"y":1.58},{"x":1.84,"y":1.55},{"x":1.87,"y":1.59},{"x":1.82,"y":1.56},{"x":1.86,"y":1.58},{"x":1.89,"y":1.55},{"x":1.83,"y":1.57},{"x":1.88,"y":1.57},{"x":1.85,"y":1.59},{"x":1.93,"y":1.56},{"x":1.98,"y":1.58},{"x":1.91,"y":1.59},{"x":1.96,"y":1.55},{"x":1.99,"y":1.57},{"x":1.94,"y":1.59},{"x":1.9,"y":1.56},{"x":1.97,"y":1.55},{"x":1.95,"y":1.57},{"x":2.01,"y":1.55},{"x":2.05,"y":1.58},{"x":2.08,"y":1.56},{"x":2.03,"y":1.59},{"x":2.07,"y":1.57},{"x":2,"y":1.57},{"x":2.04,"y":1.56},{"x":2.09,"y":1.59},{"x":2.02,"y":1.58},{"x":2.12,"y":1.59},{"x":2.16,"y":1.56},{"x":2.19,"y":1.58},{"x":2.1,"y":1.55},{"x":2.14,"y":1.57},{"x":2.18,"y":1.59},{"x":2.11,"y":1.57},{"x":2.2,"y":1.58},{"x":2.24,"y":1.55},{"x":2.27,"y":1.59},{"x":2.22,"y":1.56},{"x":2.26,"y":1.58},{"x":2.33,"y":1.56},{"x":2.38,"y":1.58},{"x":2.31,"y":1.59},{"x":2.41,"y":1.55},{"x":2.45,"y":1.58},
{"x":0.29,"y":1.53},{"x":0.31,"y":1.5},{"x":0.42,"y":1.54},{"x":0.63,"y":1.51},{"x":0.71,"y":1.5},{"x":0.82,"y":1.54},{"x":0.86,"y":1.51},{"x":0.9,"y":1.53},{"x":0.94,"y":1.5},{"x":1.03,"y":1.51},{"x":1.08,"y":1.53},{"x":1.11,"y":1.5},{"x":1.15,"y":1.53},{"x":1.18,"y":1.51},{"x":1.22,"y":1.54},{"x":1.26,"y":1.51},{"x":1.29,"y":1.53},{"x":1.3,"y":1.53},{"x":1.34,"y":1.5},{"x":1.37,"y":1.54},{"x":1.43,"y":1.51},{"x":1.48,"y":1.53},{"x":1.41,"y":1.54},{"x":1.51,"y":1.5},{"x":1.55,"y":1.53},{"x":1.58,"y":1.51},{"x":1.53,"y":1.54},{"x":1.62,"y":1.54},{"x":1.66,"y":1.51},{"x":1.69,"y":1.53},{"x":1.6,"y":1.5},{"x":1.64,"y":1.52},{"x":1.68,"y":1.54},{"x":1.7,"y":1.53},{"x":1.74,"y":1.5},{"x":1.77,"y":1.54},{"x":1.72,"y":1.51},{"x":1.76,"y":1.53},{"x":1.79,"y":1.5},{"x":1.73,"y":1.52},{"x":1.78,"y":1.52},{"x":1.83,"y":1.51},{"x":1.88,"y":1.53},{"x":1.81,"y":1.54},{"x":1.86,"y":1.5},{"x":1.89,"y":1.52},{"x":1.84,"y":1.54},{"x":1.8,"y":1.51},{"x":1.87,"y":1.5},{"x":1.85,"y":1.52},{"x":1.91,"y":1.5},{"x":1.95,"y":1.53},{"x":1.98,"y":1.51},{"x":1.93,"y":1.54},{"x":1.97,"y":1.52},{"x":1.9,"y":1.52},{"x":1.94,"y":1.51},{"x":1.99,"y":1.54},{"x":1.92,"y":1.53},{"x":2.02,"y":1.54},{"x":2.06,"y":1.51},{"x":2.09,"y":1.53},{"x":2,"y":1.5},{"x":2.04,"y":1.52},{"x":2.08,"y":1.54},{"x":2.01,"y":1.52},{"x":2.05,"y":1.5},{"x":2.1,"y":1.53},{"x":2.14,"y":1.5},{"x":2.17,"y":1.54},{"x":2.12,"y":1.51},{"x":2.16,"y":1.53},{"x":2.19,"y":1.5},{"x":2.13,"y":1.52},{"x":2.23,"y":1.51},{"x":2.28,"y":1.53},{"x":2.21,"y":1.54},{"x":2.26,"y":1.5},{"x":2.29,"y":1.52},{"x":2.31,"y":1.5},{"x":2.35,"y":1.53},{"x":2.38,"y":1.51},{"x":2.42,"y":1.54},{"x":2.46,"y":1.51},
{"x":0.32,"y":1.49},{"x":0.4,"y":1.48},{"x":0.53,"y":1.46},{"x":0.61,"y":1.45},{"x":0.72,"y":1.49},{"x":0.76,"y":1.46},{"x":0.8,"y":1.48},{"x":0.84,"y":1.45},{"x":0.93,"y":1.46},{"x":0.98,"y":1.48},{"x":1.01,"y":1.45},{"x":1.05,"y":1.48},{"x":1.12,"y":1.49},{"x":1.16,"y":1.46},{"x":1.2,"y":1.48},{"x":1.24,"y":1.45},{"x":1.27,"y":1.49},{"x":1.33,"y":1.46},{"x":1.38,"y":1.48},{"x":1.31,"y":1.49},{"x":1.41,"y":1.45},{"x":1.45,"y":1.48},{"x":1.48,"y":1.46},{"x":1.52,"y":1.49},{"x":1.56,"y":1.46},{"x":1.59,"y":1.48},{"x":1.5,"y":1.45},{"x":1.6,"y":1.48},{"x":1.64,"y":1.45},{"x":1.67,"y":1.49},{"x":1.62,"y":1.46},{"x":1.66,"y":1.48},{"x":1.69,"y":1.45},{"x":1.73,"y":1.46},{"x":1.78,"y":1.48},{"x":1.71,"y":1.49},{"x":1.76,"y":1.45},{"x":1.79,"y":1.47},{"x":1.74,"y":1.49},{"x":1.7,"y":1.46},{"x":1.77,"y":1.45},{"x":1.81,"y":1.45},{"x":1.85,"y":1.48},{"x":1.88,"y":1.46},{"x":1.83,"y":1.49},{"x":1.87,"y":1.47},{"x":1.8,"y":1.47},{"x":1.84,"y":1.46},{"x":1.89,"y":1.49},{"x":1.92,"y":1.49},{"x":1.96,"y":1.46},{"x":1.99,"y":1.48},{"x":1.9,"y":1.45},{"x":1.94,"y":1.47},{"x":1.98,"y":1.49},{"x":1.91,"y":1.47},{"x":1.95,"y":1.45},{"x":2,"y":1.48},{"x":2.04,"y":1.45},{"x":2.07,"y":1.49},{"x":2.02,"y":1.46},{"x":2.06,"y":1.48},{"x":2.09,"y":1.45},{"x":2.03,"y":1.47},{"x":2.08,"y":1.47},{"x":2.13,"y":1.46},{"x":2.18,"y":1.48},{"x":2.11,"y":1.49},{"x":2.16,"y":1.45},{"x":2.19,"y":1.47},{"x":2.14,"y":1.49},{"x":2.21,"y":1.45},{"x":2.25,"y":1.48},{"x":2.28,"y":1.46},{"x":2.23,"y":1.49},{"x":2.32,"y":1.49},{"x":2.36,"y":1.46},{"x":2.39,"y":1.48},{"x":2.4,"y":1.48},
{"x":0.3,"y":1.43},{"x":0.51,"y":1.4},{"x":0.62,"y":1.44},{"x":0.7,"y":1.43},{"x":0.83,"y":1.41},{"x":0.88,"y":1.43},{"x":0.91,"y":1.4},{"x":0.95,"y":1.43},{"x":1.02,"y":1.44},{"x":1.06,"y":1.41},{"x":1.1,"y":1.43},{"x":1.14,"y":1.4},{"x":1.23,"y":1.41},{"x":1.28,"y":1.43},{"x":1.31,"y":1.4},{"x":1.35,"y":1.43},{"x":1.38,"y":1.41},{"x":1.42,"y":1.44},{"x":1.46,"y":1.41},{"x":1.49,"y":1.43},{"x":1.5,"y":1.43},{"x":1.54,"y":1.4},{"x":1.57,"y":1.44},{"x":1.52,"y":1.41},{"x":1.63,"y":1.41},{"x":1.68,"y":1.43},{"x":1.61,"y":1.44},{"x":1.66,"y":1.4},{"x":1.69,"y":1.42},{"x":1.71,"y":1.4},{"x":1.75,"y":1.43},{"x":1.78,"y":1.41},{"x":1.73,"y":1.44},{"x":1.77,"y":1.42},{"x":1.7,"y":1.42},{"x":1.74,"y":1.41},{"x":1.82,"y":1.44},{"x":1.86,"y":1.41},{"x":1.89,"y":1.43},{"x":1.8,"y":1.4},{"x":1.84,"y":1.42},{"x":1.88,"y":1.44},{"x":1.81,"y":1.42},{"x":1.85,"y":1.4},{"x":1.9,"y":1.43},{"x":1.94,"y":1.4},{"x":1.97,"y":1.44},{"x":1.92,"y":1.41},{"x":1.96,"y":1.43},{"x":1.99,"y":1.4},{"x":1.93,"y":1.42},{"x":1.98,"y":1.42},{"x":2.03,"y":1.41},{"x":2.08,"y":1.43},{"x":2.01,"y":1.44},{"x":2.06,"y":1.4},{"x":2.09,"y":1.42},{"x":2.04,"y":1.44},{"x":2,"y":1.41},{"x":2.11,"y":1.4},{"x":2.15,"y":1.43},{"x":2.18,"y":1.41},{"x":2.13,"y":1.44},{"x":2.17,"y":1.42},{"x":2.1,"y":1.42},{"x":2.22,"y":1.44},{"x":2.26,"y":1.41},{"x":2.29,"y":1.43},{"x":2.2,"y":1.4},{"x":2.3,"y":1.43},{"x":2.34,"y":1.4},{"x":2.43,"y":1.41},
{"x":0.41,"y":1.35},{"x":0.52,"y":1.39},{"x":0.6,"y":1.38},{"x":0.73,"y":1.36},{"x":0.81,"y":1.35},{"x":0.92,"y":1.39},{"x":0.96,"y":1.36},{"x":1,"y":1.38},{"x":1.04,"y":1.35},{"x":1.13,"y":1.36},{"x":1.18,"y":1.38},{"x":1.21,"y":1.35},{"x":1.25,"y":1.38},{"x":1.32,"y":1.39},{"x":1.36,"y":1.36},{"x":1.4,"y":1.38},{"x":1.44,"y":1.35},{"x":1.47,"y":1.39},{"x":1.53,"y":1.36},{"x":1.58,"y":1.38},{"x":1.51,"y":1.39},{"x":1.61,"y":1.35},{"x":1.65,"y":1.38},{"x":1.68,"y":1.36},{"x":1.63,"y":1.39},{"x":1.67,"y":1.37},{"x":1.72,"y":1.39},{"x":1.76,"y":1.36},{"x":1.79,"y":1.38},{"x":1.7,"y":1.35},{"x":1.74,"y":1.37},{"x":1.78,"y":1.39},{"x":1.8,"y":1.38},{"x":1.84,"y":1.35},{"x":1.87,"y":1.39},{"x":1.82,"y":1.36},{"x":1.86,"y":1.38},{"x":1.89,"y":1.35},{"x":1.83,"y":1.37},{"x":1.93,"y":1.36},{"x":1.98,"y":1.38},{"x":1.91,"y":1.39},{"x":1.96,"y":1.35},{"x":1.99,"y":1.37},{"x":1.94,"y":1.39},{"x":1.9,"y":1.36},{"x":2.01,"y":1.35},{"x":2.05,"y":1.38},{"x":2.08,"y":1.36},{"x":2.03,"y":1.39},{"x":2.07,"y":1.37},{"x":2,"y":1.37},{"x":2.12,"y":1.39},{"x":2.16,"y":1.36},{"x":2.19,"y":1.38},{"x":2.1,"y":1.35},{"x":2.14,"y":1.37},{"x":2.2,"y":1.38},{"x":2.24,"y":1.35},{"x":2.27,"y":1.39},{"x":2.33,"y":1.36},{"x":2.38,"y":1.38},{"x":2.41,"y":1.35},
{"x":0.42,"y":1.34},{"x":0.5,"y":1.33},{"x":0.63,"y":1.31},{"x":0.71,"y":1.3},{"x":0.82,"y":1.34},{"x":0.9,"y":1.33},{"x":1.03,"y":1.31},{"x":1.08,"y":1.33},{"x":1.11,"y":1.3},{"x":1.15,"y":1.33},{"x":1.22,"y":1.34},{"x":1.26,"y":1.31},{"x":1.3,"y":1.33},{"x":1.34,"y":1.3},{"x":1.43,"y":1.31},{"x":1.48,"y":1.33},{"x":1.41,"y":1.34},{"x":1.51,"y":1.3},{"x":1.55,"y":1.33},{"x":1.58,"y":1.31},{"x":1.62,"y":1.34},{"x":1.66,"y":1.31},{"x":1.69,"y":1.33},{"x":1.6,"y":1.3},{"x":1.7,"y":1.33},{"x":1.74,"y":1.3},{"x":1.77,"y":1.34},{"x":1.72,"y":1.31},{"x":1.76,"y":1.33},{"x":1.83,"y":1.31},{"x":1.88,"y":1.33},{"x":1.81,"y":1.34},{"x":1.86,"y":1.3},{"x":1.89,"y":1.32},{"x":1.84,"y":1.34},{"x":1.91,"y":1.3},{"x":1.95,"y":1.33},{"x":1.98,"y":1.31},{"x":1.93,"y":1.34},{"x":1.97,"y":1.32},{"x":1.9,"y":1.32},{"x":2.02,"y":1.34},{"x":2.06,"y":1.31},{"x":2.09,"y":1.33},{"x":2,"y":1.3},{"x":2.04,"y":1.32},{"x":2.1,"y":1.33},{"x":2.14,"y":1.3},{"x":2.17,"y":1.34},{"x":2.12,"y":1.31},{"x":2.23,"y":1.31},{"x":2.28,"y":1.33},{"x":2.31,"y":1.3},
{"x":0.32,"y":1.29},{"x":0.53,"y":1.26},{"x":0.61,"y":1.25},{"x":0.72,"y":1.29},{"x":0.8,"y":1.28},{"x":0.93,"y":1.26},{"x":1.01,"y":1.25},{"x":1.12,"y":1.29},{"x":1.16,"y":1.26},{"x":1.2,"y":1.28},{"x":1.24,"y":1.25},{"x":1.33,"y":1.26},{"x":1.38,"y":1.28},{"x":1.41,"y":1.25},{"x":1.45,"y":1.28},{"x":1.52,"y":1.29},{"x":1.56,"y":1.26},{"x":1.59,"y":1.28},{"x":1.6,"y":1.28},{"x":1.64,"y":1.25},{"x":1.67,"y":1.29},{"x":1.73,"y":1.26},{"x":1.78,"y":1.28},{"x":1.71,"y":1.29},{"x":1.76,"y":1.25},{"x":1.81,"y":1.25},{"x":1.85,"y":1.28},{"x":1.88,"y":1.26},{"x":1.83,"y":1.29},{"x":1.87,"y":1.27},{"x":1.92,"y":1.29},{"x":1.96,"y":1.26},{"x":1.99,"y":1.28},{"x":1.9,"y":1.25},{"x":1.94,"y":1.27},{"x":2,"y":1.28},{"x":2.04,"y":1.25},{"x":2.07,"y":1.29},{"x":2.02,"y":1.26},{"x":2.13,"y":1.26},{"x":2.18,"y":1.28},{"x":2.11,"y":1.29},{"x":2.21,"y":1.25},{"x":2.25,"y":1.28},{"x":2.32,"y":1.29},
{"x":0.43,"y":1.21},{"x":0.51,"y":1.2},{"x":0.62,"y":1.24},{"x":0.7,"y":1.23},{"x":0.91,"y":1.2},{"x":1.02,"y":1.24},{"x":1.1,"y":1.23},{"x":1.23,"y":1.21},{"x":1.31,"y":1.2},{"x":1.35,"y":1.23},{"x":1.42,"y":1.24},{"x":1.46,"y":1.21},{"x":1.5,"y":1.23},{"x":1.54,"y":1.2},{"x":1.63,"y":1.21},{"x":1.68,"y":1.23},{"x":1.61,"y":1.24},{"x":1.71,"y":1.2},{"x":1.75,"y":1.23},{"x":1.78,"y":1.21},{"x":1.82,"y":1.24},{"x":1.86,"y":1.21},{"x":1.89,"y":1.23},{"x":1.8,"y":1.2},{"x":1.9,"y":1.23},{"x":1.94,"y":1.2},{"x":1.97,"y":1.24},{"x":2.03,"y":1.21},{"x":2.08,"y":1.23},{"x":2.01,"y":1.24},{"x":2.11,"y":1.2},{"x":2.15,"y":1.23},{"x":2.22,"y":1.24},
{"x":0.41,"y":1.15},{"x":0.52,"y":1.19},{"x":0.6,"y":1.18},{"x":0.81,"y":1.15},{"x":0.92,"y":1.19},{"x":1,"y":1.18},{"x":1.13,"y":1.16},{"x":1.32,"y":1.19},{"x":1.4,"y":1.18},{"x":1.53,"y":1.16},{"x":1.58,"y":1.18},{"x":1.61,"y":1.15},{"x":1.65,"y":1.18},{"x":1.72,"y":1.19},{"x":1.76,"y":1.16},{"x":1.8,"y":1.18},{"x":1.84,"y":1.15},{"x":1.93,"y":1.16},{"x":1.98,"y":1.18},{"x":2.01,"y":1.15},{"x":2.05,"y":1.18},{"x":2.12,"y":1.19},
{"x":0.33,"y":1.11},{"x":0.44,"y":1.13},{"x":0.56,"y":1.12},{"x":0.74,"y":1.14},{"x":0.93,"y":1.11},{"x":1.16,"y":1.13},{"x":1.34,"y":1.12},{"x":1.55,"y":1.14},{"x":1.63,"y":1.11},{"x":1.74,"y":1.13},{"x":1.82,"y":1.12},{"x":1.87,"y":1.14},{"x":1.95,"y":1.11},{"x":2.04,"y":1.13},{"x":2.23,"y":1.12},
{"x":0.23,"y":1.08},{"x":0.45,"y":1.07},{"x":0.84,"y":1.06},{"x":1.02,"y":1.09},{"x":1.24,"y":1.07},{"x":1.28,"y":1.06},{"x":1.54,"y":1.05},{"x":1.73,"y":1.08},{"x":1.93,"y":1.07},
{"x":0.55,"y":1.03},{"x":0.63,"y":1.01},{"x":1.04,"y":1.02},{"x":1.33,"y":1.02},{"x":0.36,"y":0.98},{"x":0.43,"y":0.98},{"x":0.5,"y":1},{"x":0.52,"y":1},{"x":0.57,"y":1},{"x":0.67,"y":1},{"x":1.23,"y":1},{"x":0.97,"y":1.03},{"x":1.1,"y":0.97},{"x":1.15,"y":0.94},{"x":1.29,"y":0.96},{"x":1.31,"y":0.9},{"x":1.83,"y":0.99},{"x":1.52,"y":0.87},{"x":1.53,"y":0.86},{"x":1.52,"y":0.79},{"x":0.77,"y":0.79},{"x":1,"y":0.72},{"x":1.09,"y":0.68},{"x":0.5,"y":0.69},{"x":0.72,"y":0.47},
{"x":0.28,"y":1.17},{"x":0.3,"y":1.54},{"x":0.38,"y":1.21},{"x":0.38,"y":1.79},
{"x":2.88,"y":1.68},{"x":2.88,"y":1.59},{"x":2.79,"y":1.93},{"x":2.74,"y":1.91},{"x":2.64,"y":1.99},{"x":2.57,"y":1.41},{"x":2.46,"y":1.33},{"x":2.64,"y":1.53},{"x":2.78,"y":1.6},{"x":2.65,"y":1.86},{"x":2.69,"y":1.86},{"x":2.74,"y":1.87},{"x":2.55,"y":1.96},{"x":2.58,"y":1.72},{"x":2.62,"y":1.66},{"x":2.55,"y":1.55},{"x":2.52,"y":1.45},{"x":2.6,"y":1.8},{"x":2.7,"y":1.75},
{"x":1.745,"y":1.995},{"x":1.705,"y":1.975},{"x":1.775,"y":1.965},{"x":1.725,"y":1.955},{"x":1.815,"y":1.995},{"x":1.865,"y":1.975},{"x":1.835,"y":1.955},{"x":1.885,"y":1.985},{"x":1.945,"y":1.995},{"x":1.905,"y":1.975},{"x":1.975,"y":1.965},{"x":1.925,"y":1.955},{"x":2.015,"y":1.995},{"x":2.065,"y":1.975},{"x":2.035,"y":1.955},{"x":2.085,"y":1.985},{"x":2.145,"y":1.995},{"x":2.105,"y":1.975},{"x":2.175,"y":1.965},{"x":2.125,"y":1.955},{"x":2.215,"y":1.995},{"x":2.265,"y":1.975},{"x":2.235,"y":1.955},{"x":2.285,"y":1.985},
{"x":1.715,"y":1.945},{"x":1.765,"y":1.925},{"x":1.735,"y":1.905},{"x":1.785,"y":1.935},{"x":1.845,"y":1.945},{"x":1.805,"y":1.925},{"x":1.875,"y":1.915},{"x":1.825,"y":1.905},{"x":1.915,"y":1.945},{"x":1.965,"y":1.925},{"x":1.935,"y":1.905},{"x":1.985,"y":1.935},{"x":2.045,"y":1.945},{"x":2.005,"y":1.925},{"x":2.075,"y":1.915},{"x":2.025,"y":1.905},{"x":2.115,"y":1.945},{"x":2.165,"y":1.925},{"x":2.135,"y":1.905},{"x":2.185,"y":1.935},{"x":2.245,"y":1.945},{"x":2.205,"y":1.925},{"x":2.275,"y":1.915},{"x":2.225,"y":1.905},
{"x":1.745,"y":1.895},{"x":1.705,"y":1.875},{"x":1.775,"y":1.865},{"x":1.725,"y":1.855},{"x":1.815,"y":1.895},{"x":1.865,"y":1.875},{"x":1.835,"y":1.855},{"x":1.885,"y":1.885},{"x":1.945,"y":1.895},{"x":1.905,"y":1.875},{"x":1.975,"y":1.865},{"x":1.925,"y":1.855},{"x":2.015,"y":1.895},{"x":2.065,"y":1.875},{"x":2.035,"y":1.855},{"x":2.085,"y":1.885},{"x":2.145,"y":1.895},{"x":2.105,"y":1.875},{"x":2.175,"y":1.865},{"x":2.125,"y":1.855},{"x":2.215,"y":1.895},{"x":2.265,"y":1.875},{"x":2.235,"y":1.855},{"x":2.285,"y":1.885},
{"x":1.715,"y":1.845},{"x":1.765,"y":1.825},{"x":1.735,"y":1.805},{"x":1.785,"y":1.835},{"x":1.845,"y":1.845},{"x":1.805,"y":1.825},{"x":1.875,"y":1.815},{"x":1.825,"y":1.805},{"x":1.915,"y":1.845},{"x":1.965,"y":1.825},{"x":1.935,"y":1.805},{"x":1.985,"y":1.835},{"x":2.045,"y":1.845},{"x":2.005,"y":1.825},{"x":2.075,"y":1.815},{"x":2.025,"y":1.805},{"x":2.115,"y":1.845},{"x":2.165,"y":1.825},{"x":2.135,"y":1.805},{"x":2.185,"y":1.835},{"x":2.245,"y":1.845},{"x":2.205,"y":1.825},{"x":2.275,"y":1.815},{"x":2.225,"y":1.805},
{"x":1.745,"y":1.795},{"x":1.705,"y":1.775},{"x":1.775,"y":1.765},{"x":1.725,"y":1.755},{"x":1.815,"y":1.795},{"x":1.865,"y":1.775},{"x":1.835,"y":1.755},{"x":1.885,"y":1.785},{"x":1.945,"y":1.795},{"x":1.905,"y":1.775},{"x":1.975,"y":1.765},{"x":1.925,"y":1.755},{"x":2.015,"y":1.795},{"x":2.065,"y":1.775},{"x":2.035,"y":1.755},{"x":2.085,"y":1.785},{"x":2.145,"y":1.795},{"x":2.105,"y":1.775},{"x":2.175,"y":1.765},{"x":2.125,"y":1.755},{"x":2.215,"y":1.795},{"x":2.265,"y":1.775},{"x":2.235,"y":1.755},{"x":2.285,"y":1.785},
{"x":1.715,"y":1.745},{"x":1.765,"y":1.725},{"x":1.735,"y":1.705},{"x":1.785,"y":1.735},{"x":1.845,"y":1.745},{"x":1.805,"y":1.725},{"x":1.875,"y":1.715},{"x":1.825,"y":1.705},{"x":1.915,"y":1.745},{"x":1.965,"y":1.725},{"x":1.935,"y":1.705},{"x":1.985,"y":1.735},{"x":2.045,"y":1.745},{"x":2.005,"y":1.725},{"x":2.075,"y":1.715},{"x":2.025,"y":1.705},{"x":2.115,"y":1.745},{"x":2.165,"y":1.725},{"x":2.135,"y":1.705},{"x":2.185,"y":1.735},{"x":2.245,"y":1.745},{"x":2.205,"y":1.725},{"x":2.275,"y":1.715},{"x":2.225,"y":1.705},
{"x":1.745,"y":1.695},{"x":1.705,"y":1.675},{"x":1.775,"y":1.665},{"x":1.725,"y":1.655},{"x":1.815,"y":1.695},{"x":1.865,"y":1.675},{"x":1.835,"y":1.655},{"x":1.885,"y":1.685},{"x":1.945,"y":1.695},{"x":1.905,"y":1.675},{"x":1.975,"y":1.665},{"x":1.925,"y":1.655},{"x":2.015,"y":1.695},{"x":2.065,"y":1.675},{"x":2.035,"y":1.655},{"x":2.085,"y":1.685},{"x":2.145,"y":1.695},{"x":2.105,"y":1.675},{"x":2.175,"y":1.665},{"x":2.125,"y":1.655},{"x":2.215,"y":1.695},{"x":2.265,"y":1.675},{"x":2.235,"y":1.655},{"x":2.285,"y":1.685},
{"x":1.715,"y":1.645},{"x":1.765,"y":1.625},{"x":1.735,"y":1.605},{"x":1.785,"y":1.635},{"x":1.845,"y":1.645},{"x":1.805,"y":1.625},{"x":1.875,"y":1.615},{"x":1.825,"y":1.605},{"x":1.915,"y":1.645},{"x":1.965,"y":1.625},{"x":1.935,"y":1.605},{"x":1.985,"y":1.635},{"x":2.045,"y":1.645},{"x":2.005,"y":1.625},{"x":2.075,"y":1.615},{"x":2.025,"y":1.605},{"x":2.115,"y":1.645},{"x":2.165,"y":1.625},{"x":2.135,"y":1.605},{"x":2.185,"y":1.635},{"x":2.245,"y":1.645},{"x":2.205,"y":1.625},{"x":2.275,"y":1.615},{"x":2.225,"y":1.605},
{"x":1.745,"y":1.595},{"x":1.705,"y":1.575},{"x":1.775,"y":1.565},{"x":1.725,"y":1.555},{"x":1.815,"y":1.595},{"x":1.865,"y":1.575},{"x":1.835,"y":1.555},{"x":1.885,"y":1.585},{"x":1.945,"y":1.595},{"x":1.905,"y":1.575},{"x":1.975,"y":1.565},{"x":1.925,"y":1.555},{"x":2.015,"y":1.595},{"x":2.065,"y":1.575},{"x":2.035,"y":1.555},{"x":2.085,"y":1.585},{"x":2.145,"y":1.595},{"x":2.105,"y":1.575},{"x":2.175,"y":1.565},{"x":2.125,"y":1.555},{"x":2.215,"y":1.595},{"x":2.265,"y":1.575},{"x":2.235,"y":1.555},{"x":2.285,"y":1.585},
{"x":1.715,"y":1.545},{"x":1.765,"y":1.525},{"x":1.735,"y":1.505},{"x":1.785,"y":1.535},{"x":1.845,"y":1.545},{"x":1.805,"y":1.525},{"x":1.875,"y":1.515},{"x":1.825,"y":1.505},{"x":1.915,"y":1.545},{"x":1.965,"y":1.525},{"x":1.935,"y":1.505},{"x":1.985,"y":1.535},{"x":2.045,"y":1.545},{"x":2.005,"y":1.525},{"x":2.075,"y":1.515},{"x":2.025,"y":1.505},{"x":2.115,"y":1.545},{"x":2.165,"y":1.525},{"x":2.135,"y":1.505},{"x":2.185,"y":1.535},{"x":2.245,"y":1.545},{"x":2.205,"y":1.525},{"x":2.275,"y":1.515},{"x":2.225,"y":1.505},
{"x":1.745,"y":1.495},{"x":1.705,"y":1.475},{"x":1.775,"y":1.465},{"x":1.725,"y":1.455},{"x":1.815,"y":1.495},{"x":1.865,"y":1.475},{"x":1.835,"y":1.455},{"x":1.885,"y":1.485},{"x":1.945,"y":1.495},{"x":1.905,"y":1.475},{"x":1.975,"y":1.465},{"x":1.925,"y":1.455},{"x":2.015,"y":1.495},{"x":2.065,"y":1.475},{"x":2.035,"y":1.455},{"x":2.085,"y":1.485},{"x":2.145,"y":1.495},{"x":2.105,"y":1.475},{"x":2.175,"y":1.465},{"x":2.125,"y":1.455},
{"x":1.715,"y":1.445},{"x":1.765,"y":1.425},{"x":1.735,"y":1.405},{"x":1.785,"y":1.435},{"x":1.845,"y":1.445},{"x":1.805,"y":1.425},{"x":1.875,"y":1.415},{"x":1.825,"y":1.405},{"x":1.915,"y":1.445},{"x":1.965,"y":1.425},{"x":1.935,"y":1.405},{"x":1.985,"y":1.435},{"x":2.045,"y":1.445},{"x":2.005,"y":1.425},{"x":2.075,"y":1.415},{"x":2.025,"y":1.405},{"x":2.115,"y":1.445},{"x":2.165,"y":1.425},{"x":2.135,"y":1.405},
{"x":1.635,"y":1.985},{"x":1.675,"y":1.945},{"x":1.655,"y":1.895},{"x":1.615,"y":1.855},{"x":1.645,"y":1.795},{"x":1.685,"y":1.745},{"x":1.625,"y":1.695},{"x":1.665,"y":1.655},{"x":1.635,"y":1.595},{"x":1.675,"y":1.545},{"x":1.655,"y":1.495},{"x":1.615,"y":1.455},
{"x":2.335,"y":1.985},{"x":2.305,"y":1.935},{"x":2.345,"y":1.885},{"x":2.315,"y":1.835},{"x":2.355,"y":1.795},{"x":2.325,"y":1.745},{"x":2.305,"y":1.685},{"x":2.345,"y":1.645},{"x":2.315,"y":1.595},{"x":2.335,"y":1.535}]
},
"columns":4,
"spacing":{"row":0,"column":4},
"align":"each",
"bounds":"flush",
"center":false,
"concat":[
{"width":431,"height":112,
 "title":{"text":"A","anchor":"start","frame":"group","orient":"top","offset":-27,"dx":-101,"fontSize":25,"fontWeight":"bold","font":"Liberation Sans","baseline":"alphabetic","color":"#000"},
 "layer":[
  {"data":{"name":"topA"},"mark":{"type":"line","color":"#000","strokeWidth":1,"interpolate":"monotone"},
   "encoding":{"x":{"field":"x","type":"quantitative","scale":{"domain":[-0.16,4.16],"nice":false,"zero":false},"axis":null},"y":{"field":"d","type":"quantitative","scale":{"domain":[-0.044,1],"nice":false,"zero":false},"axis":null}}},
  {"data":{"name":"modeA"},"mark":{"type":"rule","color":"#000","strokeWidth":1,"strokeDash":[7,3,2,3]},
   "encoding":{"x":{"field":"xm","type":"quantitative","axis":null}}},
  {"data":{"name":"modeA"},"mark":{"type":"text","align":"left","baseline":"alphabetic","dx":4,"dy":-3,"fontSize":13,"font":"Liberation Sans","color":"#000"},
   "encoding":{"x":{"field":"xm","type":"quantitative","axis":null},"y":{"datum":0,"type":"quantitative","axis":null},"text":{"field":"xm","type":"quantitative","format":".2f"}}}
 ]},
{"width":1,"height":1,"data":{"values":[{"k":1}]},"mark":{"type":"point","opacity":0},"encoding":{}},
{"width":431,"height":112,
 "title":{"text":"B","anchor":"start","frame":"group","orient":"top","offset":-27,"dx":-49,"fontSize":25,"fontWeight":"bold","font":"Liberation Sans","baseline":"alphabetic","color":"#000"},
 "layer":[
  {"data":{"name":"topB"},"mark":{"type":"line","color":"#000","strokeWidth":1,"interpolate":"monotone"},
   "encoding":{"x":{"field":"x","type":"quantitative","scale":{"domain":[-0.16,4.16],"nice":false,"zero":false},"axis":null},"y":{"field":"d","type":"quantitative","scale":{"domain":[-0.044,1],"nice":false,"zero":false},"axis":null}}},
  {"data":{"name":"modeB"},"mark":{"type":"rule","color":"#000","strokeWidth":1,"strokeDash":[7,3,2,3]},
   "encoding":{"x":{"field":"xm","type":"quantitative","axis":null}}},
  {"data":{"name":"modeB"},"mark":{"type":"text","align":"left","baseline":"alphabetic","dx":3,"dy":-3,"fontSize":13,"font":"Liberation Sans","color":"#000"},
   "encoding":{"x":{"field":"xm","type":"quantitative","axis":null},"y":{"datum":0,"type":"quantitative","axis":null},"text":{"field":"xm","type":"quantitative","format":".2f"}}}
 ]},
{"width":1,"height":1,"data":{"values":[{"k":1}]},"mark":{"type":"point","opacity":0},"encoding":{}},
{"width":431,"height":430,"view":{"stroke":"#333","strokeWidth":1},
 "layer":[
  {"data":{"name":"ptsA"},"mark":{"type":"point","shape":"triangle-up","filled":true,"size":14,"color":"#2b9e97","opacity":1},
   "encoding":{"x":{"field":"x","type":"quantitative","scale":{"domain":[-0.16,4.16],"nice":false,"zero":false},"axis":{"values":[0,1,2,3,4],"format":"d","title":"Protein Entropy","labelPadding":1,"titlePadding":24}},
     "y":{"field":"y","type":"quantitative","scale":{"domain":[-0.08,2.08],"nice":false,"zero":false},"axis":{"values":[0,0.5,1,1.5,2],"format":".1f","title":"DNA Entropy","labelAngle":-90,"labelAlign":"center","labelBaseline":"alphabetic","labelPadding":3,"titlePadding":52}}}},
  {"data":{"name":"regA"},"mark":{"type":"line","color":"#000","strokeWidth":1},
   "encoding":{"x":{"field":"x","type":"quantitative"},"y":{"field":"y","type":"quantitative"}}},
  {"data":{"name":"modeA"},"mark":{"type":"rule","color":"#000","strokeWidth":1,"strokeDash":[7,3,2,3]},
   "encoding":{"x":{"field":"xm","type":"quantitative"}}},
  {"data":{"name":"modeA"},"mark":{"type":"rule","color":"#000","strokeWidth":1,"strokeDash":[7,3,2,3]},
   "encoding":{"y":{"field":"ym","type":"quantitative"}}},
  {"data":{"name":"annA"},"mark":{"type":"text","align":"right","baseline":"alphabetic","fontSize":18,"font":"Liberation Sans","color":"#000"},
   "encoding":{"x":{"datum":4,"type":"quantitative"},"y":{"datum":0.134,"type":"quantitative"},"text":{"field":"r","type":"nominal"}}},
  {"data":{"name":"annA"},"mark":{"type":"text","align":"right","baseline":"alphabetic","fontSize":18,"fontStyle":"italic","font":"Liberation Sans","color":"#000"},
   "encoding":{"x":{"datum":4,"type":"quantitative"},"y":{"datum":0,"type":"quantitative"},"text":{"field":"sp","type":"nominal"}}}
 ]},
{"width":190,"height":430,
 "layer":[
  {"data":{"name":"rightA"},"mark":{"type":"line","color":"#000","strokeWidth":1,"interpolate":"catmull-rom"},
   "encoding":{"x":{"field":"d","type":"quantitative","scale":{"domain":[0,1.7757],"nice":false,"zero":false},"axis":null},"y":{"field":"y","type":"quantitative","scale":{"domain":[-0.08,2.08],"nice":false,"zero":false},"axis":null},"order":{"field":"y","type":"quantitative"}}},
  {"data":{"name":"modeA"},"mark":{"type":"rule","color":"#000","strokeWidth":1,"strokeDash":[7,3,2,3]},
   "encoding":{"x":{"field":"pk","type":"quantitative","axis":null},"x2":{"datum":0},"y":{"field":"ym","type":"quantitative","axis":null}}},
  {"data":{"name":"modeA"},"mark":{"type":"text","align":"left","baseline":"alphabetic","dx":-1,"dy":-1,"fontSize":13,"font":"Liberation Sans","color":"#000"},
   "encoding":{"x":{"datum":0,"type":"quantitative","axis":null},"y":{"field":"ym","type":"quantitative","axis":null},"text":{"field":"ym","type":"quantitative","format":".2f"}}}
 ]},
{"width":431,"height":430,"view":{"stroke":"#333","strokeWidth":1},
 "layer":[
  {"data":{"name":"ptsB"},"mark":{"type":"point","shape":"triangle-up","filled":true,"size":14,"color":"#2b9e97","opacity":1},
   "encoding":{"x":{"field":"x","type":"quantitative","scale":{"domain":[-0.16,4.16],"nice":false,"zero":false},"axis":{"values":[0,1,2,3,4],"format":"d","title":"Protein Entropy","labelPadding":1,"titlePadding":24}},
     "y":{"field":"y","type":"quantitative","scale":{"domain":[-0.08,2.08],"nice":false,"zero":false},"axis":{"values":[0,0.5,1,1.5,2],"format":".1f","title":null,"labelAngle":-90,"labelAlign":"center","labelBaseline":"alphabetic","labelPadding":3}}}},
  {"data":{"name":"regB"},"mark":{"type":"line","color":"#000","strokeWidth":1},
   "encoding":{"x":{"field":"x","type":"quantitative"},"y":{"field":"y","type":"quantitative"}}},
  {"data":{"name":"modeB"},"mark":{"type":"rule","color":"#000","strokeWidth":1,"strokeDash":[7,3,2,3]},
   "encoding":{"x":{"field":"xm","type":"quantitative"}}},
  {"data":{"name":"modeB"},"mark":{"type":"rule","color":"#000","strokeWidth":1,"strokeDash":[7,3,2,3]},
   "encoding":{"y":{"field":"ym","type":"quantitative"}}},
  {"data":{"name":"annB"},"mark":{"type":"text","align":"right","baseline":"alphabetic","fontSize":18,"font":"Liberation Sans","color":"#000"},
   "encoding":{"x":{"datum":4,"type":"quantitative"},"y":{"datum":0.134,"type":"quantitative"},"text":{"field":"r","type":"nominal"}}},
  {"data":{"name":"annB"},"mark":{"type":"text","align":"right","baseline":"alphabetic","fontSize":18,"fontStyle":"italic","font":"Liberation Sans","color":"#000"},
   "encoding":{"x":{"datum":4,"type":"quantitative"},"y":{"datum":0.02,"type":"quantitative"},"text":{"field":"sp","type":"nominal"}}}
 ]},
{"width":110,"height":430,
 "layer":[
  {"data":{"name":"rightB"},"mark":{"type":"line","color":"#000","strokeWidth":1,"interpolate":"catmull-rom"},
   "encoding":{"x":{"field":"d","type":"quantitative","scale":{"domain":[0,1.0185],"nice":false,"zero":false},"axis":null},"y":{"field":"y","type":"quantitative","scale":{"domain":[-0.08,2.08],"nice":false,"zero":false},"axis":null},"order":{"field":"y","type":"quantitative"}}},
  {"data":{"name":"modeB"},"mark":{"type":"rule","color":"#000","strokeWidth":1,"strokeDash":[7,3,2,3]},
   "encoding":{"x":{"field":"pk","type":"quantitative","axis":null},"x2":{"datum":0},"y":{"field":"ym","type":"quantitative","axis":null}}},
  {"data":{"name":"modeB"},"mark":{"type":"text","align":"left","baseline":"alphabetic","dx":-2,"dy":-1.5,"fontSize":13,"font":"Liberation Sans","color":"#000"},
   "encoding":{"x":{"datum":0,"type":"quantitative","axis":null},"y":{"field":"ym","type":"quantitative","axis":null},"text":{"field":"ym","type":"quantitative","format":".2f"}}}
 ]}
]
}
